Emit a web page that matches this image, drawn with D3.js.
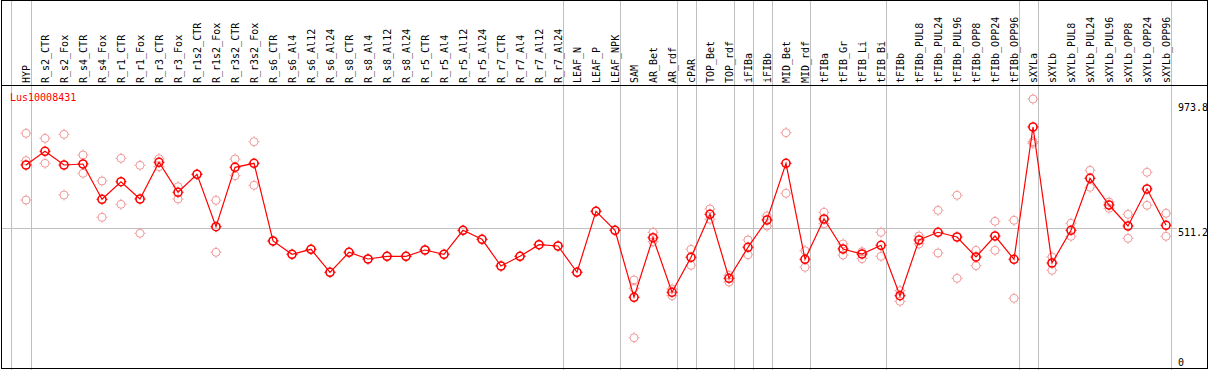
<!DOCTYPE html>
<html>
<head>
<meta charset="utf-8">
<script src="https://cdn.jsdelivr.net/npm/d3@7"></script>
<style>
  html, body { margin: 0; padding: 0; background: #fff; }
  svg { display: block; }
  text { font-family: "DejaVu Sans Mono", monospace; font-size: 10px; }
</style>
</head>
<body>
<svg id="chart"></svg>
<script>
// --------------------
//  data
// --------------------
const geneName = "Lus10008431";

const samples = [
    "HYP", "R_s2_CTR", "R_s2_Fox", "R_s4_CTR", "R_s4_Fox", "R_r1_CTR", "R_r1_Fox",
    "R_r3_CTR", "R_r3_Fox", "R_r1s2_CTR", "R_r1s2_Fox", "R_r3s2_CTR", "R_r3s2_Fox",
    "R_s6_CTR", "R_s6_Al4", "R_s6_Al12", "R_s6_Al24", "R_s8_CTR", "R_s8_Al4", "R_s8_Al12",
    "R_s8_Al24", "R_r5_CTR", "R_r5_Al4", "R_r5_Al12", "R_r5_Al24", "R_r7_CTR", "R_r7_Al4",
    "R_r7_Al12", "R_r7_Al24", "LEAF_N", "LEAF_P", "LEAF_NPK", "SAM", "AR_Bet", "AR_rdf",
    "cPAR", "TOP_Bet", "TOP_rdf", "iFIBa", "iFIBb", "MID_Bet", "MID_rdf", "tFIBa",
    "tFIB_Gr", "tFIB_Li", "tFIB_Bi", "tFIBb", "tFIBb_PUL8", "tFIBb_PUL24", "tFIBb_PUL96",
    "tFIBb_OPP8", "tFIBb_OPP24", "tFIBb_OPP96", "sXYLa", "sXYLb", "sXYLb_PUL8",
    "sXYLb_PUL24", "sXYLb_PUL96", "sXYLb_OPP8", "sXYLb_OPP24", "sXYLb_OPP96"
];

// 平均値
const meanValues = [
    737.5, 786.6, 737.5, 741.1, 614.7, 677.7, 615.8, 747.2, 639.8, 704.2, 516.6, 729.3, 743.6,
    465.4, 417.8, 435.7, 353.4, 425.0, 401.0, 410.6, 410.6, 433.2, 417.8, 503.7, 471.5,
    375.9, 410.6, 452.2, 447.5, 353.4, 571.7, 503.7,
    263.9, 477.2, 281.8, 407.1, 561.0, 331.9, 442.9, 540.6, 743.6, 399.9,
    544.2, 436.8, 418.9, 450.0, 269.6, 469.0, 496.6, 479.7, 408.2, 483.3, 399.9,
    873.6, 386.7, 503.7, 689.9, 594.3, 519.1, 651.6, 521.6
];

// 反復ごとの値
const repValues = [
    [851, 753, 612], [833, 743.6], [847.4, 630.1], [773.3, 707.8], [680.2, 550.3],
    [761.5, 596.8], [736.4, 493], [760.1, 731.4], [659.8, 615.8], [704.2],
    [611.1, 424.9], [759, 699.2], [820.9, 664.8],
    [465.4], [417.8], [435.7], [353.4], [425.0], [401.0], [410.6], [410.6], [433.2],
    [417.8], [503.7], [471.5], [375.9], [410.6], [452.2], [447.5], [353.4], [571.7], [503.7],
    [325.8, 296.1, 119.2], [496.6, 462.9], [293.6, 269.6], [435.7, 378.4], [580, 543.1],
    [342.6, 318.6], [469, 416.4], [555, 519.1], [853.2, 636.2], [430.7, 371.3],
    [568.2, 527.4], [454.7, 415.3], [427.1, 402.1], [496.6, 410.6], [287.5, 249.5],
    [483.3, 454.7], [575.3, 422.5], [629, 331.9], [432.1, 377], [535.9, 432.1],
    [539.5, 260.3], [973.8, 821, 815], [408.2, 360.5], [528.8, 482.3], [718.5, 657.7],
    [605, 582.5], [561, 475.1], [711.4, 593.2], [564.6, 482.3]
];

// 縦線を引くグループの最後のサンプル
const groupEnds = [
    "HYP", "R_r7_Al24", "LEAF_NPK", "AR_rdf", "cPAR", "TOP_rdf", "iFIBa", "iFIBb",
    "MID_rdf", "tFIB_Bi", "tFIBb_OPP96", "sXYLa", "sXYLb_OPP96"
];

const yTicks = [0, 511.2, 973.8];
const refValue = 511.2;

// --------------------
//  chart
// --------------------
const width = 1209;
const height = 370;
const headerY = 85.5;
const meanColor = "#ff0000";
const repColor = "#f19a9a";
const gridColor = "#c0c0c0";

const svg = d3.select("#chart")
    .attr("width", width)
    .attr("height", height);

const x = d3.scalePoint()
    .domain(samples)
    .range([26, 26 + 19 * (samples.length - 1)]);

const y = d3.scaleLinear()
    .domain([0, 973.8])
    .range([371, 99]);

// グループの区切り線
const breakX = [x(samples[0]) - 15].concat(groupEnds.map(s => x(s) + 5));
svg.append("g")
    .selectAll("line")
    .data(breakX)
    .join("line")
    .attr("x1", d => Math.round(d) + 0.5)
    .attr("x2", d => Math.round(d) + 0.5)
    .attr("y1", 0)
    .attr("y2", height)
    .attr("stroke", gridColor)
    .attr("shape-rendering", "crispEdges");

// 基準線
svg.append("line")
    .attr("x1", 1)
    .attr("x2", 1177)
    .attr("y1", Math.round(y(refValue)) + 0.5)
    .attr("y2", Math.round(y(refValue)) + 0.5)
    .attr("stroke", gridColor)
    .attr("shape-rendering", "crispEdges");

// 枠
svg.append("rect")
    .attr("x", 1.5)
    .attr("y", 0.5)
    .attr("width", 1206)
    .attr("height", 368)
    .attr("fill", "none")
    .attr("stroke", "#000")
    .attr("shape-rendering", "crispEdges");

svg.append("line")
    .attr("x1", 1)
    .attr("x2", 1208)
    .attr("y1", headerY)
    .attr("y2", headerY)
    .attr("stroke", "#000")
    .attr("shape-rendering", "crispEdges");

// サンプル名（縦書き）
svg.append("g")
    .selectAll("text")
    .data(samples)
    .join("text")
    .attr("transform", d => `translate(${x(d) + 3.5},83) rotate(-90)`)
    .attr("text-anchor", "start")
    .attr("fill", "#000")
    .text(d => d);

// 遺伝子名
svg.append("text")
    .attr("x", 10)
    .attr("y", 101)
    .attr("fill", meanColor)
    .text(geneName);

// 右側の目盛り
svg.append("g")
    .selectAll("text")
    .data(yTicks)
    .join("text")
    .attr("x", 1178)
    .attr("y", d => Math.max(107, Math.min(362, y(d) + 4)) + 4)
    .attr("fill", "#000")
    .text(d => d === 0 ? "0" : d3.format(".1f")(d));

// マーカー（目盛り付きの円）
function marker(g, color, sw) {
    g.append("circle")
        .attr("r", 4)
        .attr("fill", "none")
        .attr("stroke", color)
        .attr("stroke-width", sw);
    g.append("path")
        .attr("d", "M0,-5.5V-4M0,4V5.5M-5.5,0H-4M4,0H5.5")
        .attr("stroke", color)
        .attr("stroke-width", 1);
}

// 反復
const reps = samples.flatMap((s, i) => repValues[i].map(v => ({ s, v })));
svg.append("g")
    .selectAll("g")
    .data(reps)
    .join("g")
    .attr("transform", d => `translate(${x(d.s)},${y(d.v)})`)
    .each(function() { marker(d3.select(this), repColor, 1); });

// 平均の折れ線
const line = d3.line()
    .x((d, i) => x(samples[i]))
    .y(d => y(d));

svg.append("path")
    .datum(meanValues)
    .attr("d", line)
    .attr("fill", "none")
    .attr("stroke", meanColor)
    .attr("stroke-width", 1.2);

svg.append("g")
    .selectAll("g")
    .data(meanValues)
    .join("g")
    .attr("transform", (d, i) => `translate(${x(samples[i])},${y(d)})`)
    .each(function() { marker(d3.select(this), meanColor, 1.6); });
</script>
</body>
</html>
